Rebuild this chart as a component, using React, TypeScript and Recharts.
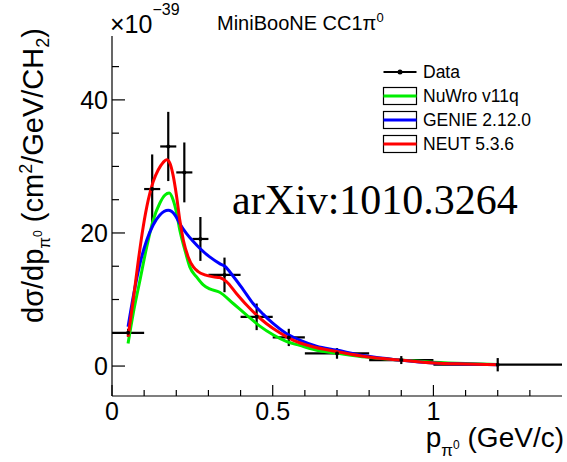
import React from 'react';
import { ComposedChart, Line, Scatter, ErrorBar, XAxis, YAxis, Legend } from 'recharts';

// ---- measured data points (MiniBooNE CC1pi0, units of 1e-39 cm2/GeV/CH2) ----
const DATA_P = [0.05, 0.125, 0.175, 0.225, 0.275, 0.35, 0.45, 0.55, 0.7, 0.9, 1.2];
const DATA_XS = [5.0, 26.6, 33.0, 29.1, 19.1, 13.7, 7.4, 4.3, 1.9, 0.9, 0.2];
const DATA_PERR = [0.05, 0.025, 0.025, 0.025, 0.025, 0.05, 0.05, 0.05, 0.1, 0.1, 0.2];
const DATA_XSERR = [0.6, 5.2, 5.2, 4.5, 3.3, 2.6, 2.0, 1.3, 0.8, 0.6, 1.0];

// ---- generator predictions ----
const NUWRO_P = [0.05, 0.066, 0.087, 0.108, 0.128, 0.149, 0.165, 0.178, 0.19, 0.201, 0.211, 0.227, 0.242, 0.263, 0.284, 0.304, 0.335, 0.377, 0.418, 0.46, 0.501, 0.542, 0.584, 0.646, 0.698, 0.791, 0.894, 1.0, 1.1, 1.2];
const NUWRO_XS = [3.4, 7.9, 12.9, 17.9, 21.9, 24.5, 25.7, 26.0, 25.0, 23.0, 20.4, 17.4, 14.9, 13.4, 12.2, 11.6, 11.1, 9.4, 7.7, 6.0, 4.7, 3.7, 3.1, 2.3, 1.95, 1.35, 0.9, 0.58, 0.38, 0.25];

const GENIE_P = [0.05, 0.066, 0.087, 0.108, 0.128, 0.149, 0.175, 0.196, 0.211, 0.232, 0.253, 0.273, 0.304, 0.335, 0.351, 0.377, 0.408, 0.439, 0.47, 0.501, 0.542, 0.584, 0.636, 0.698, 0.791, 0.894, 1.0, 1.1, 1.2];
const GENIE_XS = [5.9, 10.4, 15.4, 18.9, 21.2, 22.7, 23.4, 22.7, 21.4, 19.9, 18.7, 17.7, 16.4, 15.4, 15.0, 13.5, 11.5, 9.4, 7.8, 6.4, 4.9, 3.9, 3.0, 2.4, 1.5, 0.9, 0.45, 0.3, 0.2];

const NEUT_P = [0.05, 0.066, 0.082, 0.097, 0.113, 0.128, 0.144, 0.159, 0.17, 0.18, 0.19, 0.201, 0.211, 0.222, 0.237, 0.253, 0.268, 0.289, 0.315, 0.335, 0.356, 0.387, 0.418, 0.449, 0.48, 0.522, 0.563, 0.625, 0.698, 0.791, 0.894, 1.0, 1.1, 1.2];
const NEUT_XS = [4.4, 9.9, 15.9, 20.9, 25.0, 27.7, 29.5, 30.6, 31.0, 30.5, 28.7, 25.5, 21.9, 18.9, 16.4, 14.9, 14.2, 13.7, 13.4, 13.3, 12.7, 10.9, 9.2, 7.7, 6.4, 5.0, 3.9, 2.9, 2.2, 1.4, 0.9, 0.45, 0.3, 0.2];

// ---- axes ----
const X_DOMAIN = [0, 1.4];
const Y_DOMAIN = [-4.5, 49.6];
const X_TICKS = [0, 0.1, 0.2, 0.3, 0.4, 0.5, 0.6, 0.7, 0.8, 0.9, 1.0, 1.1, 1.2, 1.3];
const X_LABELS = [0, 0.5, 1];
const Y_TICKS = [0, 5, 10, 15, 20, 25, 30, 35, 40, 45];
const Y_LABELS = [0, 20, 40];

const SERIES_NAMES = ['Data', 'NuWro v11q', 'GENIE 2.12.0', 'NEUT 5.3.6'];
const SERIES_COLORS = ['#000000', '#00ee00', '#0000ff', '#ff0000'];

const FONT = '"Liberation Sans", Arial, Helvetica, sans-serif';
const SERIF = '"Liberation Serif", "Times New Roman", serif';

const dataPoints = DATA_P.map((p, i) => ({ x: p, y: DATA_XS[i], ex: DATA_PERR[i], ey: DATA_XSERR[i] }));
const toCurve = (ps: number[], vs: number[]) => ps.map((p, i) => ({ x: p, y: vs[i] }));
const nuwro = toCurve(NUWRO_P, NUWRO_XS);
const genie = toCurve(GENIE_P, GENIE_XS);
const neut = toCurve(NEUT_P, NEUT_XS);

const isIn = (v: number, arr: number[]) => arr.some((a) => Math.abs(a - v) < 1e-9);

const BottomTick = (props: any) => {
  const { x, y, payload } = props;
  const major = isIn(payload.value, X_LABELS);
  return (
    <g>
      <line x1={x} x2={x} y1={y} y2={y - (major ? 11 : 6)} stroke="#000" strokeWidth={1.2} />
      {major && (
        <text x={x} y={y + 24} textAnchor="middle" fontSize={25} fontFamily={FONT} fill="#000">
          {String(payload.value)}
        </text>
      )}
    </g>
  );
};

const TopTick = (props: any) => {
  const { x, y, payload } = props;
  const major = isIn(payload.value, X_LABELS);
  return <line x1={x} x2={x} y1={y} y2={y + (major ? 11 : 6)} stroke="#000" strokeWidth={1.2} />;
};

const LeftTick = (props: any) => {
  const { x, y, payload } = props;
  const major = isIn(payload.value, Y_LABELS);
  return (
    <g>
      <line x1={x} x2={x + (major ? 13 : 7)} y1={y} y2={y} stroke="#000" strokeWidth={1.2} />
      {major && (
        <text x={x - 4} y={y + 9} textAnchor="end" fontSize={25} fontFamily={FONT} fill="#000">
          {String(payload.value)}
        </text>
      )}
    </g>
  );
};

const RightTick = (props: any) => {
  const { x, y, payload } = props;
  const major = isIn(payload.value, Y_LABELS);
  return <line x1={x} x2={x - (major ? 13 : 7)} y1={y} y2={y} stroke="#000" strokeWidth={1.2} />;
};

const renderLegend = () => (
  <svg width={185} height={100} style={{ display: 'block' }}>
    {SERIES_NAMES.map((name, i) => {
      const cy = 12 + i * 24;
      return (
        <g key={name}>
          {i > 0 && <rect x={3.5} y={cy - 8.5} width={33} height={17} fill="none" stroke="#000" strokeWidth={1.2} />}
          <line x1={3.5} x2={36.5} y1={cy} y2={cy} stroke={SERIES_COLORS[i]} strokeWidth={i > 0 ? 3 : 2.2} />
          {i === 0 && <circle cx={20} cy={cy} r={2.5} fill="#000" />}
          <text x={43} y={cy + 6.3} fontSize={17.5} fontFamily={FONT} fill="#000">
            {name}
          </text>
        </g>
      );
    })}
  </svg>
);

const DataDot = (props: any) => <circle cx={props.cx} cy={props.cy} r={2} fill="#000" />;

export default function App() {
  return (
    <div style={{ position: 'absolute', left: 0, top: 0, width: 567, height: 462, background: '#fff' }}>
      <ComposedChart width={567} height={462} margin={{ top: 36, right: 5, bottom: 0, left: 0 }}>
        <XAxis
          xAxisId="b"
          dataKey="x"
          type="number"
          domain={X_DOMAIN}
          allowDataOverflow
          ticks={X_TICKS}
          interval={0}
          tick={<BottomTick />}
          tickLine={false}
          tickSize={0}
          tickMargin={0}
          height={66}
          axisLine={{ stroke: '#000', strokeWidth: 1.2 }}
        />
        <XAxis
          xAxisId="t"
          orientation="top"
          dataKey="x"
          type="number"
          domain={X_DOMAIN}
          allowDataOverflow
          ticks={X_TICKS}
          interval={0}
          tick={<TopTick />}
          tickLine={false}
          tickSize={0}
          tickMargin={0}
          height={0}
          axisLine={{ stroke: '#000', strokeWidth: 1.2 }}
        />
        <YAxis
          yAxisId="l"
          type="number"
          domain={Y_DOMAIN}
          allowDataOverflow
          ticks={Y_TICKS}
          interval={0}
          tick={<LeftTick />}
          tickLine={false}
          tickSize={0}
          tickMargin={0}
          width={112}
          axisLine={{ stroke: '#000', strokeWidth: 1.2 }}
        />
        <YAxis
          yAxisId="r"
          orientation="right"
          type="number"
          domain={Y_DOMAIN}
          allowDataOverflow
          ticks={Y_TICKS}
          interval={0}
          tick={<RightTick />}
          tickLine={false}
          tickSize={0}
          tickMargin={0}
          width={0}
          axisLine={{ stroke: '#000', strokeWidth: 1.2 }}
        />
        <Scatter
          name={SERIES_NAMES[0]}
          data={dataPoints}
          dataKey="y"
          xAxisId="b"
          yAxisId="l"
          fill="#000"
          shape={<DataDot />}
          isAnimationActive={false}
        >
          <ErrorBar dataKey="ey" direction="y" width={0} stroke="#000" strokeWidth={2.2} />
          <ErrorBar dataKey="ex" direction="x" width={0} stroke="#000" strokeWidth={2.2} />
        </Scatter>
        <Line
          name={SERIES_NAMES[1]}
          data={nuwro}
          dataKey="y"
          xAxisId="b"
          yAxisId="l"
          type="monotone"
          stroke={SERIES_COLORS[1]}
          strokeWidth={3}
          dot={false}
          activeDot={false}
          isAnimationActive={false}
        />
        <Line
          name={SERIES_NAMES[2]}
          data={genie}
          dataKey="y"
          xAxisId="b"
          yAxisId="l"
          type="monotone"
          stroke={SERIES_COLORS[2]}
          strokeWidth={3}
          dot={false}
          activeDot={false}
          isAnimationActive={false}
        />
        <Line
          name={SERIES_NAMES[3]}
          data={neut}
          dataKey="y"
          xAxisId="b"
          yAxisId="l"
          type="monotone"
          stroke={SERIES_COLORS[3]}
          strokeWidth={3}
          dot={false}
          activeDot={false}
          isAnimationActive={false}
        />
        <Legend
          content={renderLegend}
          layout="horizontal"
          align="center"
          verticalAlign="middle"
          wrapperStyle={{ left: 380, top: 60, width: 185, height: 100 }}
        />
      </ComposedChart>
      <svg
        width={567}
        height={462}
        style={{ position: 'absolute', left: 0, top: 0, pointerEvents: 'none' }}
      >
        <text x={110} y={33} fontSize={25} fontFamily={FONT} fill="#000">
          ×10<tspan dy={-18} fontSize={16}>−39</tspan>
        </text>
        <text x={217} y={29.5} fontSize={20} fontFamily={FONT} fill="#000">
          MiniBooNE CC1π<tspan dy={-8} fontSize={13}>0</tspan>
        </text>
        <text x={232} y={214} fontSize={42} fontFamily={SERIF} fill="#000">
          arXiv:1010.3264
        </text>
        <text transform="translate(43,323) rotate(-90)" fontSize={29} fontFamily={FONT} fill="#000">
          dσ/dp
          <tspan dy={7} fontSize={17}>π</tspan>
          <tspan dy={-8} fontSize={12}>0</tspan>
          <tspan dy={1} fontSize={29}> (cm</tspan>
          <tspan dy={-11} fontSize={18}>2</tspan>
          <tspan dy={11} fontSize={29}>/GeV/CH</tspan>
          <tspan dy={6} fontSize={18}>2</tspan>
          <tspan dy={-6} fontSize={29}>)</tspan>
        </text>
        <text x={564} y={447} textAnchor="end" fontSize={28} fontFamily={FONT} fill="#000">
          p
          <tspan dy={9} fontSize={17}>π</tspan>
          <tspan dy={-7} fontSize={12}>0</tspan>
          <tspan dy={-2} fontSize={28}> (GeV/c)</tspan>
        </text>
      </svg>
    </div>
  );
}
